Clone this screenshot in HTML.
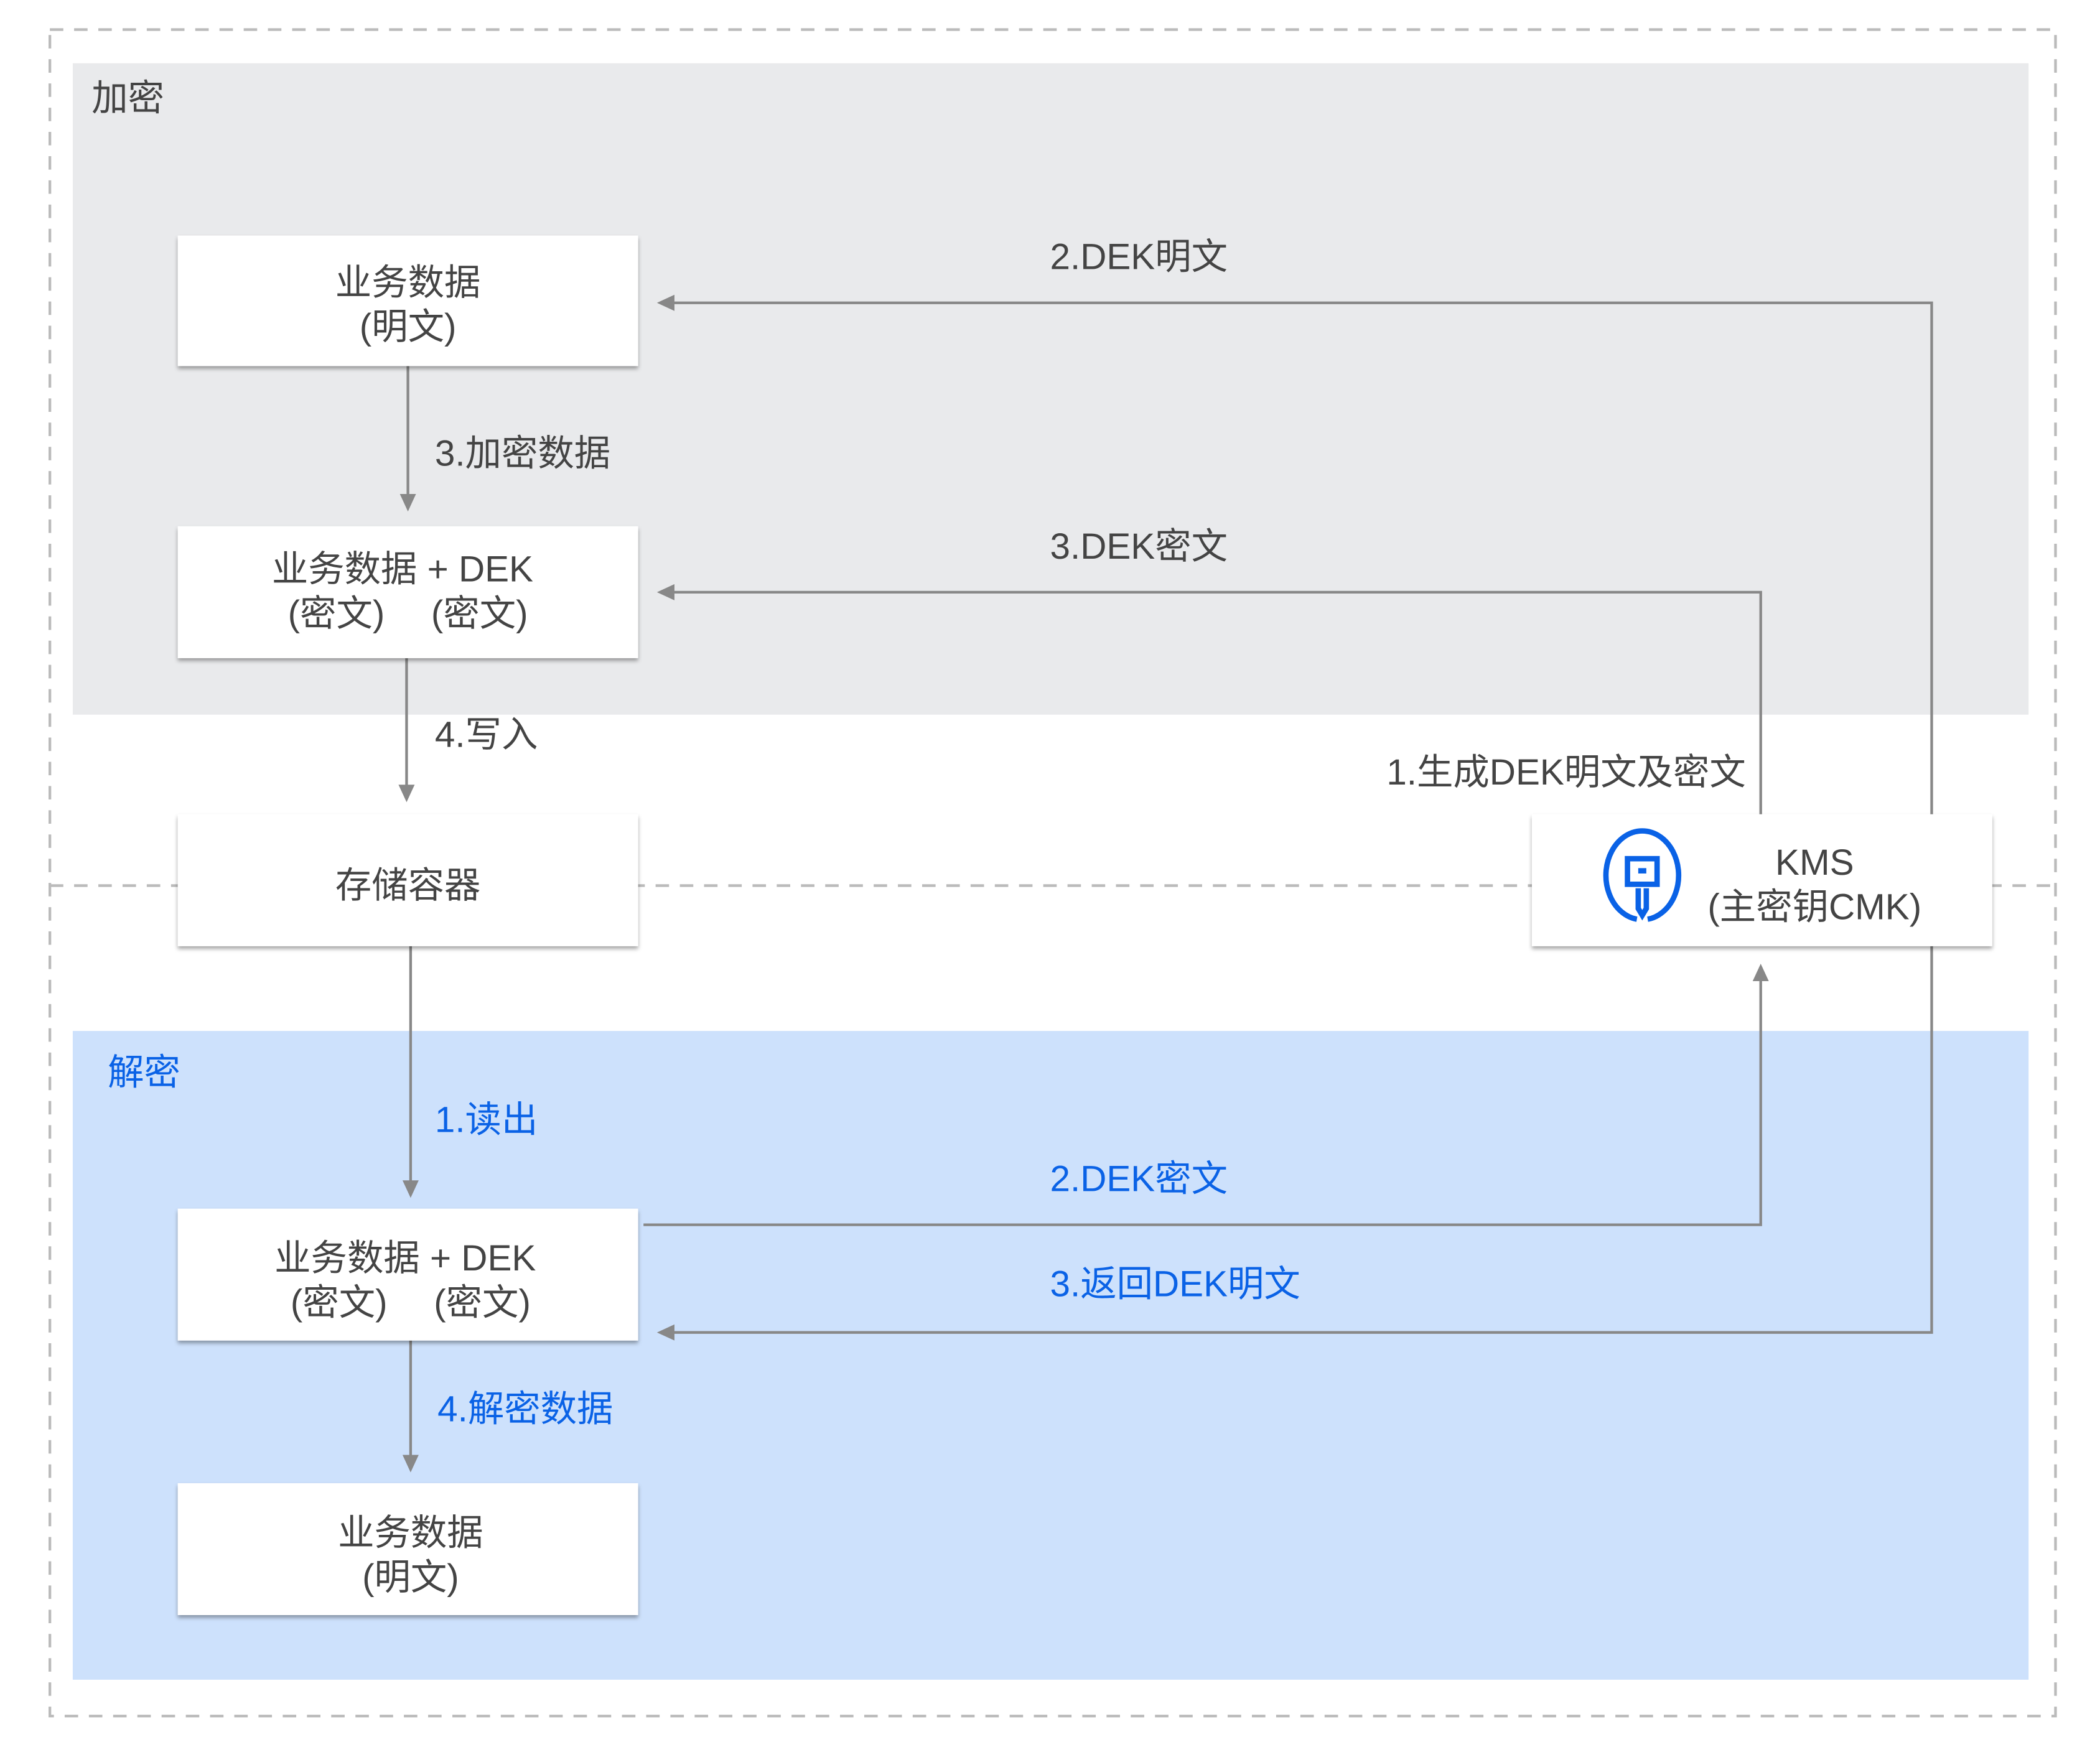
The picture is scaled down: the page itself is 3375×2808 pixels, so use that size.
<!DOCTYPE html>
<html><head><meta charset="utf-8"><style>
html,body{margin:0;padding:0;background:#fff;}
svg{display:block;}
text{font-family:"Liberation Sans","Noto Sans CJK SC",sans-serif;font-size:27px;fill:#444;}
.b{fill:#0a62e6;}
</style></head><body>
<svg width="3375" height="2808" viewBox="0 0 1560 1298" xmlns="http://www.w3.org/2000/svg">
<defs>
<filter id="sh" x="-10%" y="-10%" width="120%" height="130%"><feDropShadow dx="0" dy="2" stdDeviation="1.5" flood-color="#000" flood-opacity="0.35"/></filter>
<marker id="ar" markerWidth="14" markerHeight="14" refX="7" refY="7" orient="auto" markerUnits="userSpaceOnUse"><path d="M0,1 L13,7 L0,13 z" fill="#888"/></marker>
</defs>
<rect x="37" y="22" width="1490" height="1253" fill="none" stroke="#bbb" stroke-width="2" stroke-dasharray="10,8"/>
<line x1="37" y1="658" x2="1527" y2="658" stroke="#bbb" stroke-width="2" stroke-dasharray="10,8"/>
<rect x="54" y="47" width="1453" height="484" fill="#e9eaec"/>
<rect x="54" y="766" width="1453" height="482" fill="#cde1fc"/>
<text x="68" y="82">加密</text>
<text x="80" y="806" class="b">解密</text>
<g fill="none" stroke="#888" stroke-width="2">
<line x1="303" y1="272" x2="303" y2="374" marker-end="url(#ar)"/>
<line x1="302" y1="489" x2="302" y2="590" marker-end="url(#ar)"/>
<line x1="305" y1="703" x2="305" y2="884" marker-end="url(#ar)"/>
<line x1="305" y1="996" x2="305" y2="1088" marker-end="url(#ar)"/>
<polyline points="1435,605 1435,225 494,225" marker-end="url(#ar)"/>
<polyline points="1308,605 1308,440 494,440" marker-end="url(#ar)"/>
<polyline points="478,910 1308,910 1308,722" marker-end="url(#ar)"/>
<polyline points="1435,703 1435,990 494,990" marker-end="url(#ar)"/>
</g>
<g fill="#fff" filter="url(#sh)">
<rect x="132" y="175" width="342" height="97"/>
<rect x="132" y="391" width="342" height="98"/>
<rect x="132" y="605" width="342" height="98"/>
<rect x="1138" y="605" width="342" height="98"/>
<rect x="132" y="898" width="342" height="98"/>
<rect x="132" y="1102" width="342" height="98"/>
</g>
<g text-anchor="middle">
<text x="303" y="219">业务数据</text><text x="303" y="252">(明文)</text>
<text x="299" y="432">业务数据 + DEK</text><text x="303" y="465">(密文)　 (密文)</text>
<text x="303" y="667">存储容器</text>
<text x="1348" y="650">KMS</text><text x="1348" y="683">(主密钥CMK)</text>
<text x="301" y="944">业务数据 + DEK</text><text x="305" y="977">(密文)　 (密文)</text>
<text x="305" y="1148">业务数据</text><text x="305" y="1181">(明文)</text>
</g>
<text x="780" y="200">2.DEK明文</text>
<text x="780" y="415">3.DEK密文</text>
<text x="1030" y="583">1.生成DEK明文及密文</text>
<text x="323" y="346">3.加密数据</text>
<text x="323" y="555">4.写入</text>
<text x="323" y="841" class="b">1.读出</text>
<text x="325" y="1056" class="b">4.解密数据</text>
<text x="780" y="885" class="b">2.DEK密文</text>
<text x="780" y="963" class="b">3.返回DEK明文</text>
<g fill="none" stroke="#0a62e6" stroke-width="4">
<path d="M1216,683 A27,33 0 1 1 1224,683"/>
<rect x="1209" y="638" width="22" height="19"/>
<path d="M1217,660 V675 L1220,680 L1223,675 V660"/>
</g>
<rect x="1217" y="645" width="6" height="4" fill="#0a62e6"/>
</svg>
</body></html>
